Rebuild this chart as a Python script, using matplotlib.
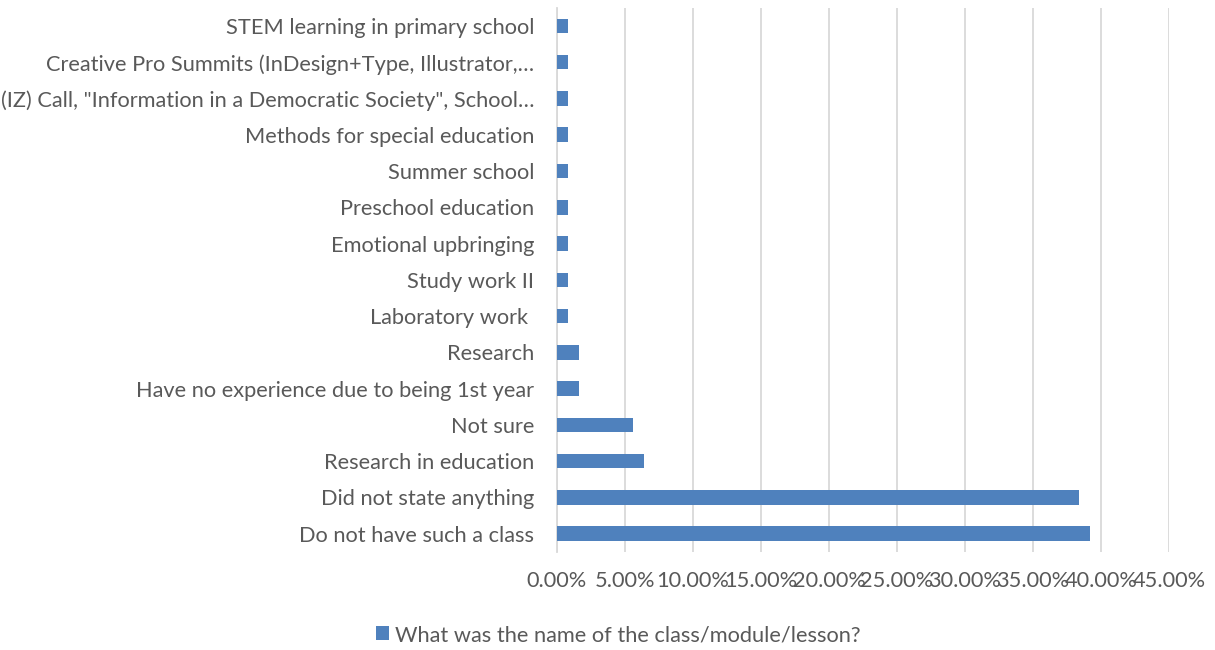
import matplotlib
matplotlib.use("Agg")
import matplotlib.pyplot as plt
from matplotlib.ticker import FuncFormatter, MultipleLocator
from matplotlib.patches import Patch

categories = [
    "Do not have such a class",
    "Did not state anything",
    "Research in education",
    "Not sure",
    "Have no experience due to being 1st year",
    "Research",
    "Laboratory work ",
    "Study work II",
    "Emotional upbringing",
    "Preschool education",
    "Summer school",
    "Methods for special education",
    "(IZ) Call, \"Information in a Democratic Society\", School\u2026",
    "Creative Pro Summits (InDesign+Type, Illustrator,\u2026",
    "STEM learning in primary school",
]
shares = [0.392, 0.384, 0.064, 0.056, 0.016, 0.016, 0.008, 0.008, 0.008,
          0.008, 0.008, 0.008, 0.008, 0.008, 0.008]
series_name = "What was the name of the class/module/lesson?"

bar_color = "#4f81bd"
text_color = "#595959"
grid_color = "#d9d9d9"
fs = 15.7

plt.rcParams["font.family"] = ["Lato", "DejaVu Sans"]

fig = plt.figure(figsize=(12.15, 6.5), dpi=100)
ax = fig.add_axes([0.4584, 0.151, 0.5037, 0.837])

ypos = list(range(len(categories)))
ax.barh(ypos, shares, height=0.4, color=bar_color, zorder=3)

ax.set_ylim(-0.5, len(categories) - 0.5)
ax.set_xlim(0, 0.45)
ax.xaxis.set_major_locator(MultipleLocator(0.05))
ax.xaxis.set_major_formatter(FuncFormatter(lambda v, p: f"{v*100:.2f}%"))
ax.set_yticks(ypos)
ax.set_yticklabels(categories)

ax.grid(axis="x", color=grid_color, linewidth=1.3, zorder=0)
for side in ("top", "right", "bottom"):
    ax.spines[side].set_visible(False)
ax.spines["left"].set_color(grid_color)
ax.spines["left"].set_linewidth(1.3)

ax.tick_params(axis="y", length=0, pad=16.5, labelsize=fs, labelcolor=text_color)
ax.tick_params(axis="x", length=0, pad=14, labelsize=fs, labelcolor=text_color)

handle = Patch(facecolor=bar_color, edgecolor="none")
fig.legend([handle], [series_name], loc="center", bbox_to_anchor=(0.509, 0.023),
           frameon=False, fontsize=fs, labelcolor=text_color,
           handlelength=0.6, handleheight=0.6, handletextpad=0.25)

fig.savefig("out.png", dpi=100, facecolor="white")
